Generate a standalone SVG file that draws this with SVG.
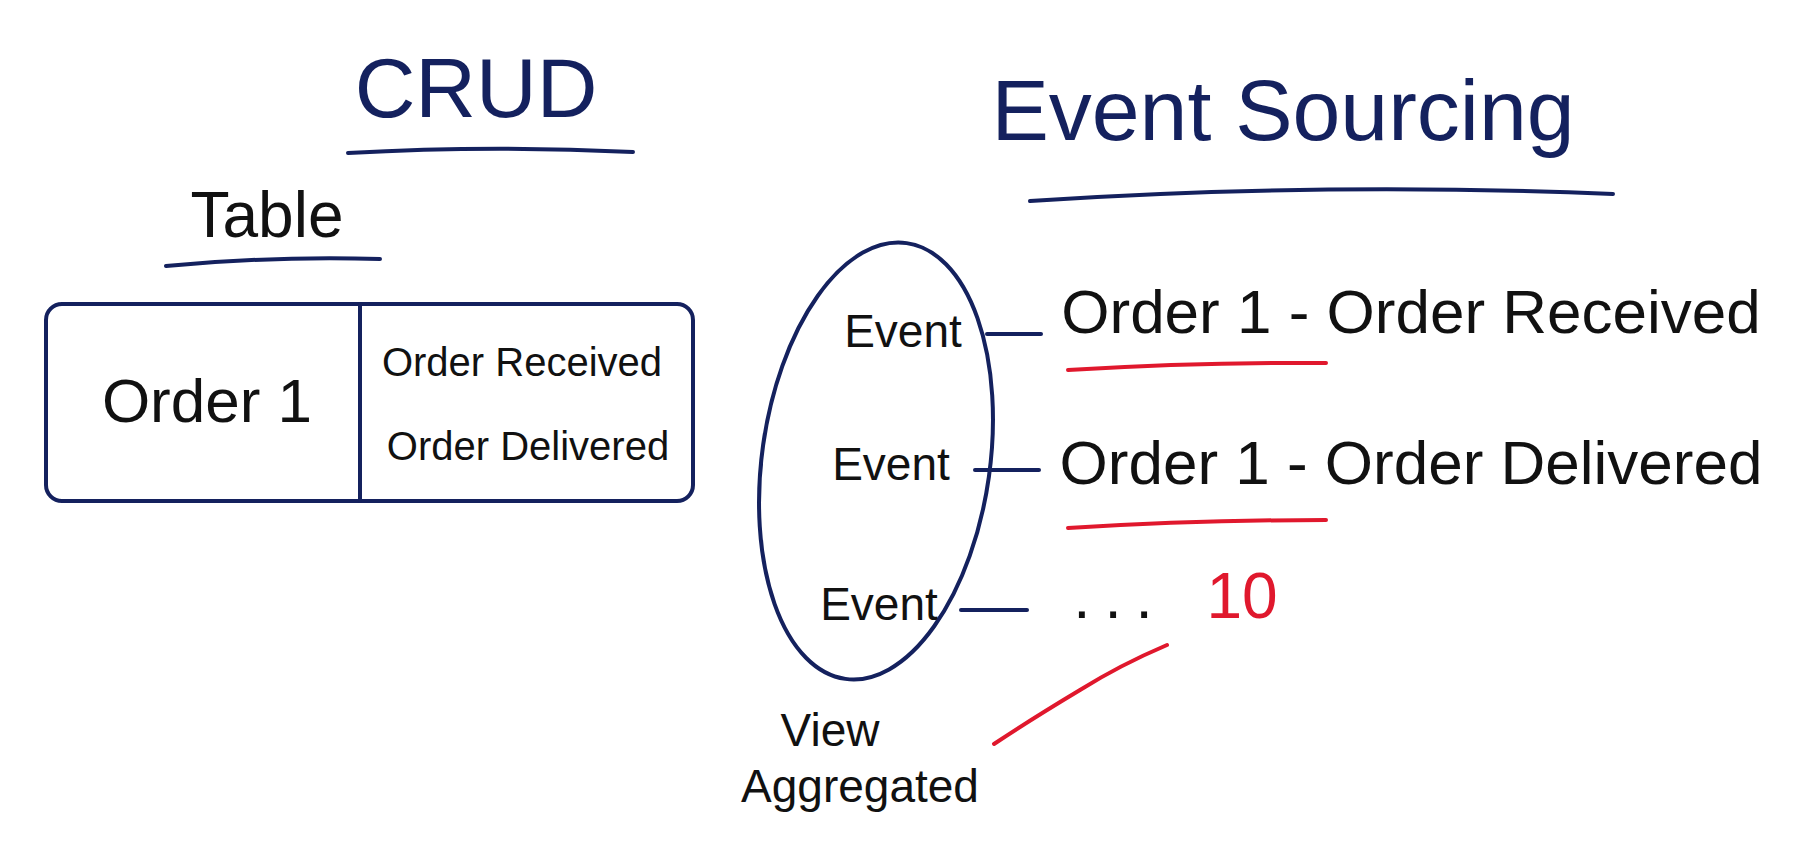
<svg xmlns="http://www.w3.org/2000/svg" width="1820" height="864" viewBox="0 0 1820 864">
<style>
.t{font-family:"Liberation Sans",Arial,sans-serif;fill:#111;text-anchor:middle}
.n{fill:#14215e}
.ln{stroke:#14215e;stroke-width:4;fill:none;stroke-linecap:round}
.rd{stroke:#e0182d;stroke-width:4;fill:none;stroke-linecap:round}
</style>
<rect width="1820" height="864" fill="#fff"/>
<g id="title-crud"><text class="t n" x="476" y="117" font-size="84">CRUD</text><path class="ln" d="M348 153 Q490 145 633 152"/></g>
<g id="title-table"><text class="t" x="267" y="237" font-size="64">Table</text><path class="ln" d="M166 266 Q270 256 380 259"/></g>
<g id="crud-table">
<rect class="ln" x="46" y="304" width="647" height="197" rx="16"/>
<line class="ln" x1="360" y1="304" x2="360" y2="501"/>
<text class="t" x="207" y="422" font-size="62">Order 1</text>
<text class="t" x="522" y="376" font-size="40">Order Received</text>
<text class="t" x="528" y="460" font-size="40">Order Delivered</text>
</g>
<g id="title-es"><text class="t n" x="1283" y="140" font-size="86">Event Sourcing</text><path class="ln" d="M1030 201 Q1320 182 1613 194"/></g>
<g id="aggregate"><ellipse class="ln" cx="876" cy="461" rx="114" ry="220" transform="rotate(8 876 461)"/>
<text class="t" x="903" y="347" font-size="46">Event</text>
<text class="t" x="891" y="480" font-size="46">Event</text>
<text class="t" x="879" y="620" font-size="46">Event</text></g>
<g id="e1"><text class="t" x="1411" y="333" font-size="62">Order 1 - Order Received</text></g>
<g id="e2"><text class="t" x="1411" y="484" font-size="62">Order 1 - Order Delivered</text></g>
<g id="e3"><text class="t" x="1120" y="618" font-size="62" letter-spacing="14">...</text><text class="t" x="1242" y="618" font-size="64" fill="#e0182d" style="fill:#e0182d">10</text></g>
<g id="label-view"><text class="t" x="830" y="746" font-size="46">View</text><text class="t" x="860" y="802" font-size="46">Aggregated</text></g>
<g id="connectors">
<line class="ln" x1="987" y1="334" x2="1041" y2="334"/>
<line class="ln" x1="975" y1="470" x2="1039" y2="470"/>
<line class="ln" x1="961" y1="610" x2="1027" y2="610"/>
<path class="rd" d="M1068 370 Q1200 362 1326 363"/>
<path class="rd" d="M1068 528 Q1200 520 1326 520"/>
<path class="rd" d="M1167 645 Q1120 665 1080 690 Q1030 720 994 744"/>
</g>
</svg>
